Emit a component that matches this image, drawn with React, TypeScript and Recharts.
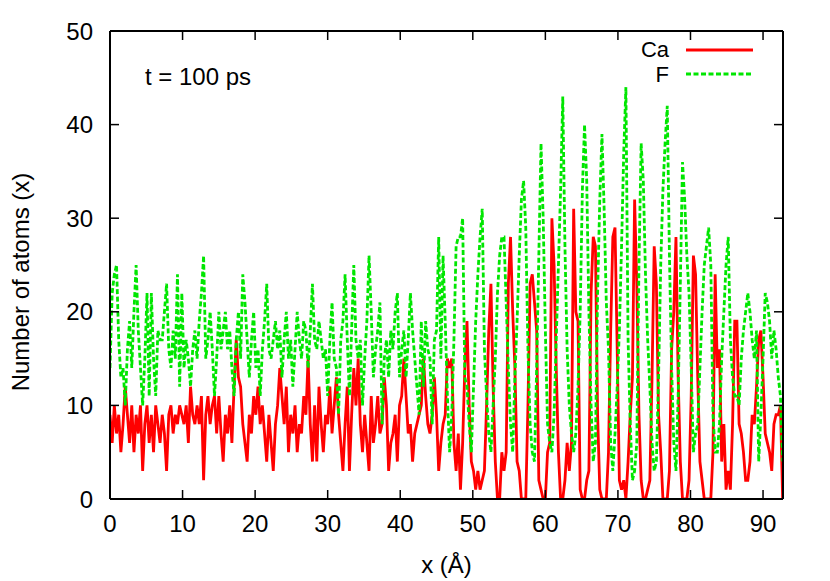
import React from 'react';
import { LineChart, Line, XAxis, YAxis, Legend } from 'recharts';

// bin width of the histogram along x (Å)
const BIN_WIDTH = 0.3;

const xTicks = [0, 10, 20, 30, 40, 50, 60, 70, 80, 90];
const yTicks = [0, 10, 20, 30, 40, 50];
const seriesNames = ['Ca', 'F'];
const annotation = 't = 100 ps';
const xTitle = 'x (Å)';
const yTitle = 'Number of atoms (x)';

const caCounts = [
  9, 6, 10, 7, 9, 5, 8, 12, 9, 6,
  10, 5, 9, 7, 10, 3, 8, 10, 6, 9,
  5, 10, 8, 6, 9, 7, 3, 9, 10, 7,
  9, 8, 10, 9, 8, 10, 6, 12, 9, 8,
  10, 8, 11, 2, 9, 11, 8, 10, 11, 7,
  11, 7, 4, 9, 7, 10, 6, 12, 17, 13,
  12, 8, 6, 4, 9, 7, 11, 9, 12, 8,
  10, 7, 4, 9, 6, 3, 8, 10, 14, 11,
  8, 12, 5, 9, 7, 10, 5, 8, 7, 11,
  9, 15, 8, 4, 10, 4, 12, 8, 5, 9,
  8, 12, 7, 10, 13, 9, 6, 3, 8, 12,
  3, 9, 14, 10, 15, 8, 5, 9, 6, 3,
  11, 6, 8, 11, 7, 8, 13, 10, 3, 6,
  7, 9, 4, 10, 11, 15, 11, 7, 8, 4,
  7, 8, 9, 10, 15, 11, 8, 7, 9, 13,
  9, 3, 6, 8, 9, 15, 14, 15, 6, 3,
  7, 1, 6, 14, 19, 10, 4, 3, 1, 3,
  1, 2, 3, 10, 18, 23, 12, 4, 0, 0,
  5, 3, 5, 23, 28, 20, 14, 4, 3, 0,
  0, 0, 10, 23, 24, 21, 18, 2, 1, 0,
  0, 5, 6, 30, 25, 14, 5, 0, 0, 2,
  6, 3, 6, 31, 20, 19, 1, 0, 0, 2,
  3, 22, 28, 27, 9, 1, 0, 0, 0, 5,
  18, 28, 29, 16, 2, 1, 2, 0, 4, 9,
  13, 32, 23, 9, 2, 0, 0, 1, 2, 13,
  27, 23, 9, 5, 0, 0, 0, 3, 16, 20,
  28, 13, 4, 0, 0, 0, 2, 11, 26, 24,
  13, 4, 2, 0, 0, 0, 0, 5, 24, 14,
  16, 4, 8, 1, 3, 1, 8, 19, 19, 8,
  7, 5, 2, 2, 4, 9, 8, 12, 17, 18,
  13, 7, 6, 5, 3, 8, 9, 9, 10, 0,
];

const fCounts = [
  14, 22, 24, 25, 17, 13, 14, 10, 16, 19,
  14, 20, 25, 18, 14, 10, 15, 22, 11, 22,
  15, 11, 18, 17, 17, 20, 23, 16, 14, 18,
  15, 24, 12, 22, 14, 17, 15, 12, 16, 18,
  15, 19, 22, 26, 15, 17, 20, 16, 11, 15,
  20, 16, 18, 20, 16, 18, 14, 11, 17, 20,
  15, 24, 21, 17, 13, 17, 20, 14, 16, 11,
  16, 19, 23, 16, 15, 17, 19, 16, 18, 13,
  17, 20, 15, 17, 12, 16, 20, 17, 15, 19,
  18, 14, 18, 23, 17, 16, 19, 17, 15, 16,
  11, 17, 21, 15, 14, 9, 17, 19, 24, 17,
  11, 18, 25, 17, 15, 17, 10, 15, 19, 26,
  20, 13, 16, 18, 21, 8, 15, 17, 13, 18,
  16, 20, 22, 13, 16, 18, 13, 17, 22, 18,
  15, 12, 9, 19, 12, 19, 16, 15, 8, 17,
  18, 28, 15, 26, 19, 11, 5, 9, 17, 27,
  28, 28, 30, 13, 12, 8, 5, 12, 19, 24,
  28, 31, 16, 11, 7, 5, 10, 15, 22, 26,
  28, 28, 21, 14, 8, 5, 13, 19, 26, 32,
  34, 29, 16, 8, 5, 4, 14, 26, 38, 30,
  18, 8, 6, 5, 9, 17, 25, 33, 43, 27,
  16, 10, 7, 5, 7, 12, 20, 33, 40, 34,
  20, 10, 4, 6, 22, 32, 39, 31, 21, 16,
  6, 3, 7, 12, 18, 27, 37, 44, 17, 8,
  2, 3, 6, 25, 38, 34, 24, 17, 12, 6,
  3, 4, 13, 25, 33, 38, 42, 26, 14, 6,
  3, 11, 23, 36, 32, 26, 22, 14, 5, 7,
  8, 14, 20, 25, 27, 29, 25, 9, 5, 5,
  8, 15, 20, 25, 28, 17, 13, 11, 11, 10,
  15, 18, 20, 22, 20, 17, 15, 18, 4, 9,
  15, 22, 21, 19, 15, 18, 16, 13, 11, 4,
];

const data = caCounts.map((ca, i) => ({
  x: Math.round(i * BIN_WIDTH * 100) / 100,
  Ca: ca,
  F: fCounts[i],
}));

const W = 830;
const H = 581;
const LEFT = 110;
const TOP = 31;
const RIGHT = 783;
const BOTTOM = 499;
const TICK = 9;
const FONT = '"Liberation Sans", Arial, Helvetica, sans-serif';
const FS = 24;
const LEGEND_FS = 22;
const RED = '#ff0000';
const GREEN = '#00e600';

const BottomTick = (props: any) => {
  const { x, payload } = props;
  return (
    <g>
      <line x1={x} x2={x} y1={BOTTOM} y2={BOTTOM - TICK} stroke="#000" strokeWidth={1.5} />
      <text x={x} y={523} textAnchor="middle" dominantBaseline="central" fontSize={FS} fontFamily={FONT} fill="#000">
        {payload.value}
      </text>
    </g>
  );
};

const TopTick = (props: any) => {
  const { x } = props;
  return <line x1={x} x2={x} y1={TOP} y2={TOP + TICK} stroke="#000" strokeWidth={1.5} />;
};

const LeftTick = (props: any) => {
  const { y, payload } = props;
  return (
    <g>
      <line x1={LEFT} x2={LEFT + TICK} y1={y} y2={y} stroke="#000" strokeWidth={1.5} />
      <text x={93} y={y} textAnchor="end" dominantBaseline="central" fontSize={FS} fontFamily={FONT} fill="#000">
        {payload.value}
      </text>
    </g>
  );
};

const RightTick = (props: any) => {
  const { y } = props;
  return <line x1={RIGHT} x2={RIGHT - TICK} y1={y} y2={y} stroke="#000" strokeWidth={1.5} />;
};

const XTitle = () => (
  <text x={(LEFT + RIGHT) / 2} y={564} textAnchor="middle" dominantBaseline="central" fontSize={FS} fontFamily={FONT} fill="#000">
    {xTitle}
  </text>
);

const YTitle = () => (
  <text
    x={20}
    y={282}
    transform="rotate(-90, 20, 282)"
    textAnchor="middle"
    dominantBaseline="central"
    fontSize={FS}
    fontFamily={FONT}
    fill="#000"
  >
    {yTitle}
  </text>
);

const LegendBox = () => {
  const colors = [RED, GREEN];
  const dashes = [undefined, '5 2.5'];
  const textY = [13, 38];
  const lineY = [14, 38];
  return (
    <svg width={230} height={60} style={{ display: 'block', overflow: 'visible' }}>
      {seriesNames.map((name, i) => (
        <g key={name}>
          <text x={109} y={textY[i]} textAnchor="end" dominantBaseline="central" fontSize={LEGEND_FS} fontFamily={FONT} fill="#000">
            {name}
          </text>
          <line x1={126} x2={193} y1={lineY[i]} y2={lineY[i]} stroke={colors[i]} strokeWidth={2.8} strokeDasharray={dashes[i]} />
        </g>
      ))}
    </svg>
  );
};

export default function App() {
  return (
    <div style={{ position: 'absolute', left: 0, top: 0, width: W, height: H, background: '#fff' }}>
      <LineChart width={W} height={H} data={data} margin={{ top: 0, right: 0, bottom: 0, left: 0 }}>
        <XAxis
          dataKey="x"
          type="number"
          domain={[0, 92.75]}
          ticks={xTicks}
          height={82}
          allowDataOverflow
          tickLine={false}
          axisLine={{ stroke: '#000', strokeWidth: 2 }}
          tick={<BottomTick />}
          label={<XTitle />}
        />
        <XAxis
          xAxisId="top"
          orientation="top"
          dataKey="x"
          type="number"
          domain={[0, 92.75]}
          ticks={xTicks}
          height={31}
          allowDataOverflow
          tickLine={false}
          axisLine={{ stroke: '#000', strokeWidth: 2 }}
          tick={<TopTick />}
        />
        <YAxis
          type="number"
          domain={[0, 50]}
          ticks={yTicks}
          width={110}
          allowDataOverflow
          tickLine={false}
          axisLine={{ stroke: '#000', strokeWidth: 2 }}
          tick={<LeftTick />}
          label={<YTitle />}
        />
        <YAxis
          yAxisId="right"
          orientation="right"
          type="number"
          domain={[0, 50]}
          ticks={yTicks}
          width={47}
          allowDataOverflow
          tickLine={false}
          axisLine={{ stroke: '#000', strokeWidth: 2 }}
          tick={<RightTick />}
        />
        <Legend
          layout="vertical"
          align="center"
          verticalAlign="middle"
          content={<LegendBox />}
          wrapperStyle={{ position: 'absolute', left: 560, top: 36, width: 230, height: 60 }}
        />
        <Line
          dataKey="Ca"
          name={seriesNames[0]}
          type="linear"
          stroke={RED}
          strokeWidth={2.8}
          dot={false}
          isAnimationActive={false}
        />
        <Line
          dataKey="F"
          name={seriesNames[1]}
          type="linear"
          stroke={GREEN}
          strokeWidth={2.8}
          strokeDasharray="5 2.5"
          dot={false}
          isAnimationActive={false}
        />
      </LineChart>
      <div
        style={{
          position: 'absolute',
          left: 145,
          top: 77,
          transform: 'translateY(-50%)',
          fontSize: FS,
          fontFamily: FONT,
          color: '#000',
          whiteSpace: 'nowrap',
          lineHeight: 1,
        }}
      >
        {annotation}
      </div>
    </div>
  );
}
